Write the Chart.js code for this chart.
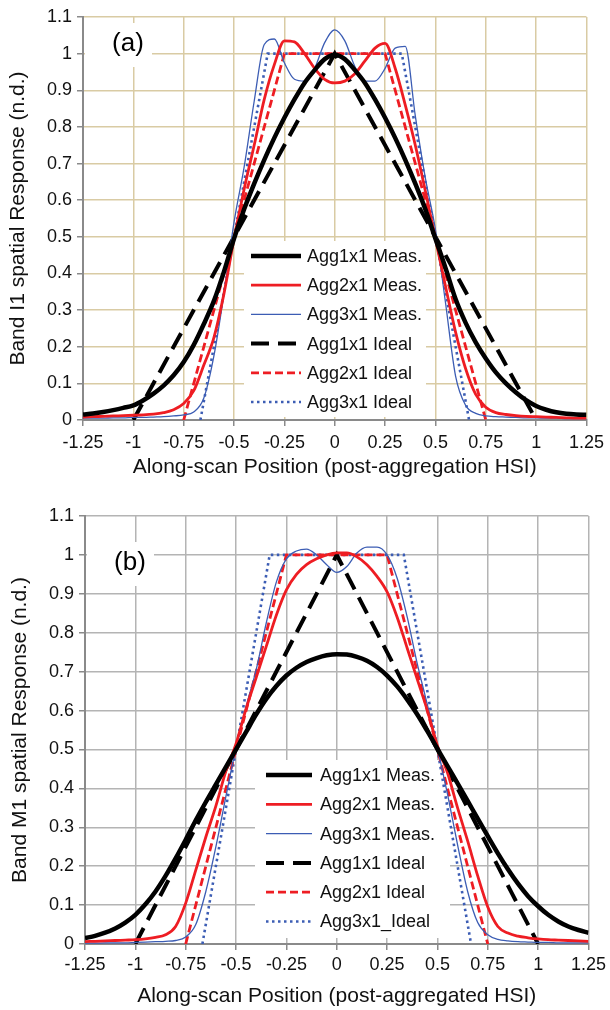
<!DOCTYPE html>
<html>
<head>
<meta charset="utf-8">
<script src="https://cdn.jsdelivr.net/npm/chart.js@4.4.1/dist/chart.umd.min.js"></script>
<style>
  body { margin: 0; background: #fff; }
  canvas { display: block; }
</style>
</head>
<body>
<canvas id="chartA" width="610" height="500"></canvas>
<canvas id="chartB" width="610" height="510"></canvas>
<script>
// along-scan positions of the measured curves
const xPos = [-1.25,-1.2,-1.15,-1.1,-1.05,-1,-0.95,-0.9,-0.85,-0.8,-0.75,-0.7,-0.65,-0.6,-0.55,-0.5,-0.45,-0.4,-0.35,-0.3,-0.25,-0.2,-0.15,-0.1,-0.05,0,
  0.05,0.1,0.15,0.2,0.25,0.3,0.35,0.4,0.45,0.5,0.55,0.6,0.65,0.7,0.75,0.8,0.85,0.9,0.95,1,1.05,1.1,1.15,1.2,1.25];

// (a) Band I1
const i1Agg1Meas = [0.015,0.018,0.022,0.027,0.033,0.040,0.054,0.072,0.094,0.122,0.158,0.205,0.262,0.325,0.405,0.495,0.575,0.645,0.710,0.770,0.825,0.875,0.920,0.955,0.985,0.997,
  0.985,0.955,0.920,0.875,0.825,0.770,0.710,0.645,0.575,0.495,0.415,0.330,0.265,0.212,0.168,0.130,0.100,0.075,0.054,0.038,0.028,0.021,0.017,0.015,0.014];
const i1Agg2Meas = [0.008,0.009,0.010,0.011,0.012,0.013,0.014,0.016,0.020,0.028,0.045,0.080,0.150,0.225,0.345,0.495,0.630,0.750,0.875,0.970,1.035,1.032,1.000,0.960,0.930,0.920,
  0.925,0.945,0.980,1.015,1.028,0.960,0.860,0.750,0.625,0.495,0.365,0.240,0.140,0.070,0.035,0.020,0.015,0.012,0.010,0.009,0.008,0.007,0.006,0.005,0.005];
const i1Agg3Meas = [0.005,0.005,0.005,0.006,0.006,0.007,0.007,0.008,0.009,0.011,0.014,0.022,0.060,0.175,0.345,0.540,0.690,0.870,1.025,1.040,0.975,0.930,0.925,0.960,1.030,1.065,
  1.035,0.965,0.925,0.925,0.960,1.015,1.020,0.830,0.660,0.520,0.320,0.120,0.040,0.018,0.011,0.009,0.008,0.007,0.006,0.006,0.005,0.005,0.004,0.004,0.004];

// (b) Band M1
const m1Agg1Meas = [0.015,0.021,0.029,0.040,0.055,0.075,0.102,0.135,0.175,0.220,0.268,0.318,0.365,0.410,0.455,0.500,0.545,0.590,0.630,0.663,0.690,0.710,0.725,0.735,0.742,0.745,
  0.744,0.738,0.728,0.712,0.690,0.662,0.628,0.590,0.547,0.502,0.457,0.413,0.368,0.322,0.277,0.233,0.192,0.155,0.123,0.097,0.075,0.058,0.045,0.036,0.029];
const m1Agg2Meas = [0.006,0.007,0.008,0.009,0.010,0.011,0.013,0.017,0.024,0.045,0.105,0.190,0.275,0.355,0.445,0.515,0.605,0.685,0.765,0.845,0.910,0.950,0.975,0.990,1.000,1.005,
  1.005,0.995,0.975,0.945,0.905,0.840,0.760,0.680,0.600,0.510,0.440,0.350,0.265,0.175,0.095,0.045,0.028,0.020,0.016,0.013,0.011,0.010,0.009,0.008,0.007];
const m1Agg3Meas = [0.002,0.002,0.003,0.003,0.003,0.004,0.005,0.006,0.007,0.009,0.018,0.050,0.135,0.250,0.380,0.505,0.610,0.705,0.825,0.930,0.990,1.010,1.015,1.000,0.975,0.955,
  0.970,1.005,1.020,1.020,1.000,0.940,0.840,0.720,0.615,0.505,0.385,0.255,0.135,0.055,0.024,0.012,0.008,0.006,0.005,0.004,0.004,0.003,0.003,0.003,0.003];

// ideal responses (same for both bands)
const agg1IdealX = [-1, 0, 1];
const agg1IdealY = [0, 1, 0];
const agg2IdealX = [-0.75, -0.25, 0.25, 0.75];
const agg2IdealY = [0, 1, 1, 0];
const agg3IdealX = [-0.667, -0.333, 0.333, 0.667];
const agg3IdealY = [0, 1, 1, 0];

const xTicks = [-1.25,-1,-0.75,-0.5,-0.25,0,0.25,0.5,0.75,1,1.25];
const yTicks = [0,0.1,0.2,0.3,0.4,0.5,0.6,0.7,0.8,0.9,1,1.1];

const FONT = '"Liberation Sans", Arial, Helvetica, sans-serif';
Chart.defaults.font.family = FONT;
Chart.defaults.color = '#111';

const RED = '#ee1d23';
const BLUE = '#3c5db4';
const AXIS = '#8a8a8a';

const pts = (xs, ys) => xs.map((x, i) => ({ x: x, y: ys[i] }));

// white legend box and panel tag drawn over the grid, under the curves
const boxLegend = {
  id: 'boxLegend',
  beforeDatasetsDraw(chart, args, opts) {
    const ctx = chart.ctx;
    ctx.save();
    const p = opts.panel;
    ctx.fillStyle = '#fff';
    ctx.fillRect(p.box[0], p.box[1], p.box[2], p.box[3]);
    ctx.fillStyle = '#000';
    ctx.font = '26px ' + FONT;
    ctx.textAlign = 'center';
    ctx.textBaseline = 'middle';
    ctx.fillText(p.text, p.x, p.y);

    const L = opts.legend;
    ctx.fillStyle = '#fff';
    ctx.fillRect(L.left, L.top, L.width, L.height);
    ctx.font = '18px ' + FONT;
    ctx.textAlign = 'left';
    chart.data.datasets.forEach((ds, i) => {
      const y = L.firstY + i * L.step;
      ctx.beginPath();
      ctx.strokeStyle = ds.borderColor;
      ctx.lineWidth = ds.borderWidth;
      ctx.setLineDash(ds.borderDash || []);
      ctx.moveTo(L.lineX0, y);
      ctx.lineTo(L.lineX1, y);
      ctx.stroke();
      ctx.setLineDash([]);
      ctx.fillStyle = '#111';
      ctx.fillText(ds.label, L.textX, y + 1);
    });
    ctx.restore();
  }
};

function makeChart(id, cfg) {
  const datasets = [
    { label: 'Agg1x1 Meas.', data: pts(xPos, cfg.agg1), borderColor: '#000', borderWidth: 4.5, cubicInterpolationMode: 'monotone' },
    { label: 'Agg2x1 Meas.', data: pts(xPos, cfg.agg2), borderColor: RED, borderWidth: 2.8, cubicInterpolationMode: 'monotone' },
    { label: 'Agg3x1 Meas.', data: pts(xPos, cfg.agg3), borderColor: BLUE, borderWidth: 1.3, cubicInterpolationMode: 'monotone' },
    { label: 'Agg1x1 Ideal', data: pts(agg1IdealX, agg1IdealY), borderColor: '#000', borderWidth: 4, borderDash: [18, 9] },
    { label: 'Agg2x1 Ideal', data: pts(agg2IdealX, agg2IdealY), borderColor: RED, borderWidth: 2.8, borderDash: [8, 4] },
    { label: cfg.lastLabel, data: pts(agg3IdealX, agg3IdealY), borderColor: BLUE, borderWidth: 2.6, borderDash: [2.5, 3.5] }
  ];
  datasets.forEach(d => { d.pointRadius = 0; d.fill = false; });

  return new Chart(document.getElementById(id), {
    type: 'line',
    data: { datasets: datasets },
    plugins: [boxLegend],
    options: {
      responsive: false,
      animation: false,
      layout: { padding: cfg.padding },
      plugins: {
        legend: { display: false },
        tooltip: { enabled: false },
        boxLegend: { panel: cfg.panel, legend: cfg.legend }
      },
      scales: {
        x: {
          type: 'linear', min: -1.25, max: 1.25,
          afterBuildTicks: s => { s.ticks = xTicks.map(v => ({ value: v })); },
          afterFit: s => { s.height = cfg.xHeight; },
          ticks: { callback: v => String(v), font: { size: 18 }, color: '#111', padding: cfg.xTickPad, maxRotation: 0, autoSkip: false },
          grid: {
            color: c => (c.tick && c.tick.value === -1.25) ? 'rgba(0,0,0,0)' : cfg.grid,
            lineWidth: 1.5, tickColor: AXIS, tickLength: 6, tickWidth: 1.5
          },
          border: { color: AXIS, width: 2 },
          title: { display: true, text: cfg.xTitle, font: { size: 21 }, color: '#111', padding: { top: 0, bottom: cfg.xTitlePad } }
        },
        y: {
          min: 0, max: 1.1,
          afterBuildTicks: s => { s.ticks = yTicks.map(v => ({ value: v })); },
          afterFit: s => { s.width = 83; },
          ticks: { callback: v => String(v), font: { size: 18 }, color: '#111', padding: 5 },
          grid: {
            color: c => (c.tick && c.tick.value === 0) ? 'rgba(0,0,0,0)' : cfg.grid,
            lineWidth: 1.5, tickColor: AXIS, tickLength: 6, tickWidth: 1.5
          },
          border: { color: AXIS, width: 2 },
          title: { display: true, text: cfg.yTitle, font: { size: 21 }, color: '#111', padding: { top: 6, bottom: 0 } }
        }
      }
    }
  });
}

makeChart('chartA', {
  agg1: i1Agg1Meas, agg2: i1Agg2Meas, agg3: i1Agg3Meas,
  lastLabel: 'Agg3x1 Ideal',
  grid: '#d9cba4',
  padding: { left: 0, right: 20, top: 17, bottom: 0 },
  xHeight: 80, xTickPad: 6, xTitlePad: 20,
  xTitle: 'Along-scan Position (post-aggregation HSI)',
  yTitle: 'Band I1 spatial Response (n.d.)',
  panel: { text: '(a)', x: 128, y: 44, box: [85, 23, 67, 44] },
  legend: { left: 244, top: 241, width: 182, height: 176, firstY: 256, step: 29.2, lineX0: 251, lineX1: 301, textX: 307 }
});

makeChart('chartB', {
  agg1: m1Agg1Meas, agg2: m1Agg2Meas, agg3: m1Agg3Meas,
  lastLabel: 'Agg3x1_Ideal',
  grid: '#b4b4b4',
  padding: { left: 2, right: 17, top: 16, bottom: 0 },
  xHeight: 66, xTickPad: 4, xTitlePad: 1,
  xTitle: 'Along-scan Position (post-aggregated HSI)',
  yTitle: 'Band M1 spatial Response (n.d.)',
  panel: { text: '(b)', x: 130, y: 63, box: [87, 42, 67, 44] },
  legend: { left: 255, top: 260, width: 195, height: 178, firstY: 275, step: 29.3, lineX0: 266, lineX1: 312, textX: 320 }
});
</script>
</body>
</html>
